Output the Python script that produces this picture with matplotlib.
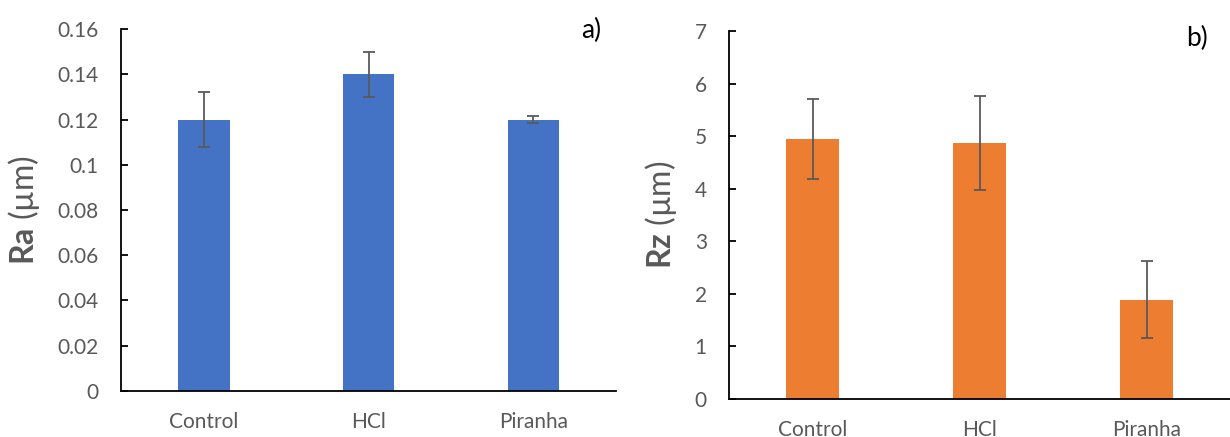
import matplotlib
matplotlib.use("Agg")
import matplotlib.pyplot as plt
import numpy as np
from matplotlib.ticker import FuncFormatter

plt.rcParams['font.family'] = ['Lato', 'DejaVu Sans']
plt.rcParams['mathtext.fontset'] = 'custom'
plt.rcParams['mathtext.rm'] = 'Lato'
plt.rcParams['mathtext.bf'] = 'Lato:bold'

treatments = ["Control", "HCl", "Piranha"]
ra_values = [0.120, 0.140, 0.120]
ra_errors = [0.0123, 0.0100, 0.0016]
rz_values = [4.94, 4.87, 1.89]
rz_errors = [0.76, 0.90, 0.73]

text_grey = "#595959"

fig = plt.figure(figsize=(12.3, 4.37), dpi=100)
ax1 = fig.add_axes([0.0984, 0.1053, 0.4024, 0.8283])
ax2 = fig.add_axes([0.5927, 0.0870, 0.4073, 0.8421])


def style_panel(ax, values, errors, color, ylabel, ymax, ystep, tag, tag_xy):
    x = np.arange(len(treatments))
    ax.bar(x, values, width=0.315, color=color, zorder=2)
    ax.errorbar(x, values, yerr=errors, fmt='none', ecolor="#5a5a5a",
                elinewidth=1.3, capsize=4.3, capthick=1.3, zorder=3)
    ax.set_xlim(-0.5, len(treatments) - 0.5)
    ax.set_ylim(0, ymax)
    ax.set_yticks(np.arange(0, ymax + ystep / 2, ystep))
    ax.yaxis.set_major_formatter(FuncFormatter(lambda v, p: f"{round(v, 4):g}"))
    ax.set_xticks(x)
    ax.set_xticklabels(treatments)
    for s in ['top', 'right']:
        ax.spines[s].set_visible(False)
    for s in ['left', 'bottom']:
        ax.spines[s].set_linewidth(1.3)
        ax.spines[s].set_color('black')
    ax.tick_params(axis='y', direction='in', length=5, width=1.3, color='black',
                   labelsize=15, labelcolor=text_grey, pad=16)
    ax.tick_params(axis='x', length=0, labelsize=15, labelcolor=text_grey, pad=15)
    ax.set_ylabel(ylabel, fontsize=23, color=text_grey, labelpad=11)
    fig.text(tag_xy[0], tag_xy[1], tag, fontsize=19, color='black', ha='left', va='center')


style_panel(ax1, ra_values, ra_errors, "#4472C4", r"$\mathbf{Ra}$ (µm)", 0.16, 0.02,
            "a)", (581 / 1230, 1 - 30 / 437))
style_panel(ax2, rz_values, rz_errors, "#ED7D31", r"$\mathbf{Rz}$ (µm)", 7, 1,
            "b)", (1186 / 1230, 1 - 38 / 437))

fig.savefig("out.png", dpi=100)
